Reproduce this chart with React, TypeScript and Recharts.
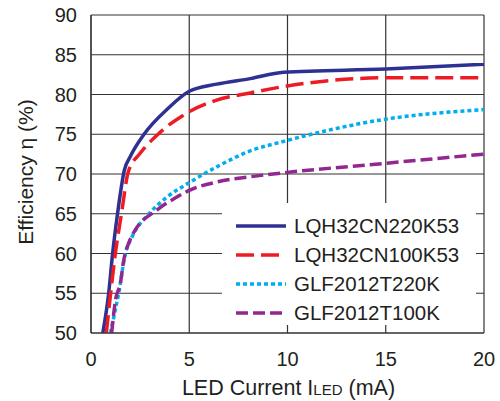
import { LineChart, Line, XAxis, YAxis, CartesianGrid, Legend } from "recharts";

// LED current (mA) / efficiency (%), one pair per inductor
const LQH220_CURRENT = [0.6, 0.9, 1.1, 1.35, 1.7, 2.0, 2.7, 3.9, 5.0, 6.4, 8.1, 9.8, 15, 20];
const LQH220_EFF = [50, 55, 60, 65, 70.5, 72.2, 75, 78.2, 80.4, 81.3, 82.0, 82.8, 83.2, 83.8];

const LQH100_CURRENT = [0.78, 1.0, 1.24, 1.55, 1.9, 2.5, 3.5, 4.7, 6.4, 8.1, 9.8, 15, 20];
const LQH100_EFF = [50, 55, 60, 65, 70.3, 72.6, 75.2, 77.4, 79.3, 80.2, 81.0, 82.1, 82.1];

const GLF220_CURRENT = [0.99, 1.2, 1.41, 1.75, 2.09, 2.95, 3.87, 5.06, 6.4, 8.1, 9.8, 15, 20];
const GLF220_EFF = [50, 52.5, 55, 60, 62.1, 65, 67.1, 69.0, 70.9, 72.9, 74.1, 76.9, 78.1];

const GLF100_CURRENT = [1.05, 1.25, 1.49, 1.67, 1.92, 2.1, 3.37, 4.3, 5.06, 6.42, 8.1, 9.8, 15, 20];
const GLF100_EFF = [50, 54.2, 56.2, 59.2, 61.3, 62.3, 65.5, 67.0, 68.0, 69.0, 69.65, 70.15, 71.35, 72.5];

const SERIES_NAMES = ["LQH32CN220K53", "LQH32CN100K53", "GLF2012T220K", "GLF2012T100K"];
const X_TICKS = [0, 5, 10, 15, 20];
const Y_TICKS = [50, 55, 60, 65, 70, 75, 80, 85, 90];

const toPoints = (xs: number[], ys: number[]) =>
  xs.map((x, i) => ({ current: x, eff: ys[i] }));

const SERIES_DATA = [
  toPoints(LQH220_CURRENT, LQH220_EFF),
  toPoints(LQH100_CURRENT, LQH100_EFF),
  toPoints(GLF220_CURRENT, GLF220_EFF),
  toPoints(GLF100_CURRENT, GLF100_EFF),
];

const COLORS = ["#2E3192", "#ED1C24", "#00AEEF", "#92278F"];
const DASHES = [undefined, "18 7", "4 3", "12 5"];

const FONT = "'Liberation Sans', Arial, sans-serif";
const INK = "#231F20";

function XLabel({ viewBox }: any) {
  const cx = viewBox.x + viewBox.width / 2 + 1;
  return (
    <text x={cx} y={viewBox.y + 62} textAnchor="middle" fontFamily={FONT} fontSize={21.5} fill={INK}>
      LED Current I<tspan fontSize={15}>LED</tspan> (mA)
    </text>
  );
}

function YLabel({ viewBox }: any) {
  const cy = viewBox.y + viewBox.height / 2 - 2;
  return (
    <text
      x={33}
      y={cy}
      transform={`rotate(-90, 33, ${cy})`}
      textAnchor="middle"
      fontFamily={FONT}
      fontSize={21}
      fill={INK}
    >
      Efficiency η (%)
    </text>
  );
}

function LegendBox() {
  return (
    <svg width={254} height={122} style={{ display: "block", background: "#fff" }}>
      {SERIES_NAMES.map((name, i) => {
        const y = 23 + i * 29;
        return (
          <g key={name}>
            <line
              x1={14}
              x2={64}
              y1={y}
              y2={y}
              stroke={COLORS[i]}
              strokeWidth={3.5}
              strokeDasharray={DASHES[i]}
            />
            <text x={72} y={y + 7} fontFamily={FONT} fontSize={20.5} fill={INK}>
              {name}
            </text>
          </g>
        );
      })}
    </svg>
  );
}

export default function App() {
  return (
    <div style={{ position: "absolute", left: 0, top: 0, background: "#fff" }}>
      <LineChart width={500} height={401} margin={{ top: 15, right: 16, bottom: 0, left: 0 }}>
        <CartesianGrid stroke="#333" strokeWidth={1.2} />
        <XAxis
          type="number"
          dataKey="current"
          domain={[0, 20]}
          ticks={X_TICKS}
          allowDataOverflow
          height={68}
          tickSize={0}
          tickMargin={19}
          axisLine={{ stroke: "#333", strokeWidth: 1.2 }}
          tick={{ fontSize: 20, fill: INK, fontFamily: FONT }}
          label={<XLabel />}
        />
        <YAxis
          type="number"
          dataKey="eff"
          domain={[50, 90]}
          ticks={Y_TICKS}
          allowDataOverflow
          width={91}
          tickSize={0}
          tickMargin={14}
          axisLine={{ stroke: "#333", strokeWidth: 1.2 }}
          tick={{ fontSize: 20, fill: INK, fontFamily: FONT }}
          label={<YLabel />}
        />
        {SERIES_DATA.map((data, i) => (
          <Line
            key={SERIES_NAMES[i]}
            name={SERIES_NAMES[i]}
            data={data}
            dataKey="eff"
            type="monotone"
            stroke={COLORS[i]}
            strokeWidth={3.5}
            strokeDasharray={DASHES[i]}
            dot={false}
            activeDot={false}
            isAnimationActive={false}
          />
        ))}
        <Legend
          layout="vertical"
          align="center"
          verticalAlign="middle"
          content={<LegendBox />}
          wrapperStyle={{ left: 222, top: 203, width: 254, height: 122 }}
        />
      </LineChart>
    </div>
  );
}
